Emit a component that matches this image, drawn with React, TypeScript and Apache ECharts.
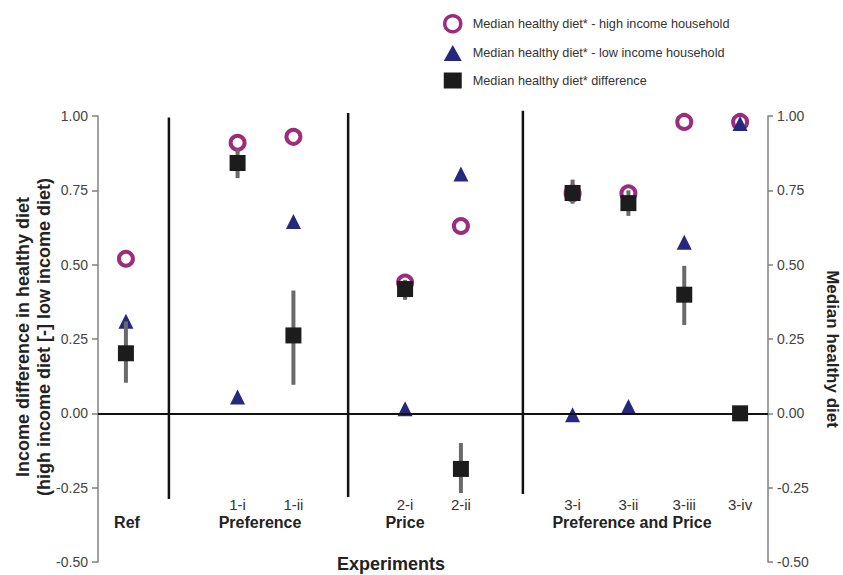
import React, { useEffect, useRef } from "react";
import * as echarts from "echarts";

// ---------- data ----------
const experiments = ["Ref", "1-i", "1-ii", "2-i", "2-ii", "3-i", "3-ii", "3-iii", "3-iv"];
const tickLabels = ["", "1-i", "1-ii", "2-i", "2-ii", "3-i", "3-ii", "3-iii", "3-iv"];
const expPositions = [0.5, 2.5, 3.5, 5.5, 6.5, 8.5, 9.5, 10.5, 11.5];
const highIncome = [0.52, 0.91, 0.93, 0.44, 0.63, 0.74, 0.74, 0.98, 0.98];
const lowIncome = [0.31, 0.055, 0.645, 0.015, 0.805, -0.005, 0.023, 0.575, 0.975];
const difference = [0.202, 0.842, 0.262, 0.418, -0.187, 0.741, 0.707, 0.399, 0.0];
const diffLow = [0.103, 0.791, 0.096, 0.382, -0.268, 0.705, 0.664, 0.297, -0.02];
const diffHigh = [0.309, 0.889, 0.413, 0.449, -0.1, 0.786, 0.75, 0.496, 0.02];
const dividerPositions = [1.27, 4.48, 7.61];
const dividerTop = [0.995, 1.01, 1.018];
const dividerBottom = [-0.288, -0.281, -0.271];
const groupLabels = ["Ref", "Preference", "Price", "Preference and Price"];
const seriesNames = [
  "Median healthy diet* - high income household",
  "Median healthy diet* - low income household",
  "Median healthy diet* difference",
];
const leftTitle = ["Income difference in healthy diet", "(high income diet [-] low income diet)"];
const rightTitle = "Median healthy diet";
const xTitle = "Experiments";

const FONT = "'Liberation Sans', Arial, Helvetica, sans-serif";
const MAGENTA = "#9C2C7C";
const NAVY = "#25287C";
const BLACK = "#1C1C1C";

export default function App() {
  const ref = useRef<HTMLDivElement>(null);
  useEffect(() => {
    if (!ref.current) return;
    const chart = echarts.init(ref.current, null, { renderer: "svg" });

    const yAxisCommon = {
      type: "value",
      min: -0.5,
      max: 1,
      interval: 0.25,
      splitLine: { show: false },
      axisLine: { show: true, onZero: false, lineStyle: { color: "#808080", width: 1.5 } },
      axisTick: { show: true, lineStyle: { color: "#808080", width: 1.5 } },
    };

    const option: any = {
      animation: false,
      backgroundColor: "#ffffff",
      grid: { left: 98, right: 75, top: 116, bottom: 13, containLabel: false },
      legend: {
        orient: "vertical",
        left: 438,
        top: 9,
        itemWidth: 18,
        itemHeight: 16,
        itemGap: 11.5,
        symbolKeepAspect: true,
        textStyle: { fontSize: 12.7, color: "#333", fontFamily: FONT, padding: [0, 0, 0, 6] },
        data: [
          { name: seriesNames[0], itemStyle: { borderWidth: 3.5 } },
          { name: seriesNames[1] },
          { name: seriesNames[2] },
        ],
      },
      xAxis: {
        type: "value",
        min: 0,
        max: 12,
        interval: 0.5,
        position: "bottom",
        splitLine: { show: false },
        axisLine: { show: false, onZero: false },
        axisTick: { show: false },
        axisLabel: {
          inside: true,
          margin: 50,
          fontSize: 15,
          color: "#333",
          fontFamily: FONT,
          showMinLabel: true,
          showMaxLabel: true,
          formatter: (v: number) => {
            const i = expPositions.findIndex((p) => Math.abs(p - v) < 1e-6);
            return i >= 0 ? tickLabels[i] : "";
          },
        },
      },
      yAxis: [
        {
          ...yAxisCommon,
          position: "left",
          axisTick: { ...yAxisCommon.axisTick, length: 6 },
          axisLabel: {
            margin: 10,
            fontSize: 14,
            color: "#444",
            fontFamily: FONT,
            formatter: (v: number) => v.toFixed(2),
          },
        },
        {
          ...yAxisCommon,
          position: "right",
          axisTick: { ...yAxisCommon.axisTick, length: 5 },
          axisLabel: {
            margin: 9,
            fontSize: 14,
            color: "#444",
            fontFamily: FONT,
            formatter: (v: number) => v.toFixed(2),
          },
        },
      ],
      series: [
        {
          name: "zero line",
          type: "scatter",
          data: [],
          z: 1,
          silent: true,
          markLine: {
            silent: true,
            symbol: ["none", "none"],
            label: { show: false },
            lineStyle: { color: "#111", width: 2, type: "solid" },
            data: [{ yAxis: 0 }],
          },
        },
        {
          name: "dividers",
          type: "custom",
          z: 1,
          silent: true,
          clip: false,
          encode: { x: 0, y: [1, 2] },
          data: dividerPositions.map((x, i) => [x, dividerTop[i], dividerBottom[i]]),
          renderItem: (params: any, api: any) => {
            const x = api.value(0);
            const top = api.coord([x, api.value(1)]);
            const bot = api.coord([x, api.value(2)]);
            return {
              type: "line",
              shape: { x1: top[0], y1: top[1], x2: bot[0], y2: bot[1] },
              style: { stroke: "#111", lineWidth: 2.5 },
            };
          },
        },
        {
          name: seriesNames[0],
          type: "scatter",
          symbol: "circle",
          symbolSize: 14,
          z: 2,
          itemStyle: { color: "#ffffff", borderColor: MAGENTA, borderWidth: 4, opacity: 1 },
          data: expPositions.map((x, i) => [x, highIncome[i]]),
        },
        {
          name: seriesNames[1],
          type: "scatter",
          symbol: "triangle",
          symbolSize: 15,
          z: 3,
          itemStyle: { color: NAVY, opacity: 1 },
          data: expPositions.map((x, i) => [x, lowIncome[i]]),
        },
        {
          name: "error bars",
          type: "custom",
          z: 4,
          silent: true,
          encode: { x: 0, y: [1, 2] },
          data: expPositions.map((x, i) => [x, diffLow[i], diffHigh[i]]),
          renderItem: (params: any, api: any) => {
            const x = api.value(0);
            const lo = api.coord([x, api.value(1)]);
            const hi = api.coord([x, api.value(2)]);
            return {
              type: "line",
              shape: { x1: lo[0], y1: lo[1], x2: hi[0], y2: hi[1] },
              style: { stroke: "#6a6a6a", lineWidth: 4, lineCap: "butt" },
            };
          },
        },
        {
          name: seriesNames[2],
          type: "scatter",
          symbol: "rect",
          symbolSize: 16,
          z: 5,
          itemStyle: { color: BLACK, opacity: 1 },
          data: expPositions.map((x, i) => [x, difference[i]]),
        },
      ],
      graphic: [
        {
          type: "text",
          x: 33,
          y: 337,
          rotation: Math.PI / 2,
          style: {
            text: leftTitle.join("\n"),
            font: `bold 18px ${FONT}`,
            fill: "#222",
            align: "center",
            verticalAlign: "middle",
            lineHeight: 21,
          },
        },
        {
          type: "text",
          x: 832,
          y: 349,
          rotation: -Math.PI / 2,
          style: {
            text: rightTitle,
            font: `bold 17px ${FONT}`,
            fill: "#222",
            align: "center",
            verticalAlign: "middle",
          },
        },
        {
          type: "text",
          x: 391,
          y: 564,
          style: {
            text: xTitle,
            font: `bold 18px ${FONT}`,
            fill: "#222",
            align: "center",
            verticalAlign: "middle",
          },
        },
        ...groupLabels.map((g, i) => ({
          type: "text",
          x: [127, 260, 405, 632][i],
          y: 522,
          style: {
            text: g,
            font: `bold 16px ${FONT}`,
            fill: "#222",
            align: "center",
            verticalAlign: "middle",
          },
        })),
      ],
    };

    chart.setOption(option);
    return () => chart.dispose();
  }, []);

  return (
    <div
      ref={ref}
      style={{ position: "fixed", left: 0, top: 0, width: 843, height: 575, background: "#fff" }}
    />
  );
}
